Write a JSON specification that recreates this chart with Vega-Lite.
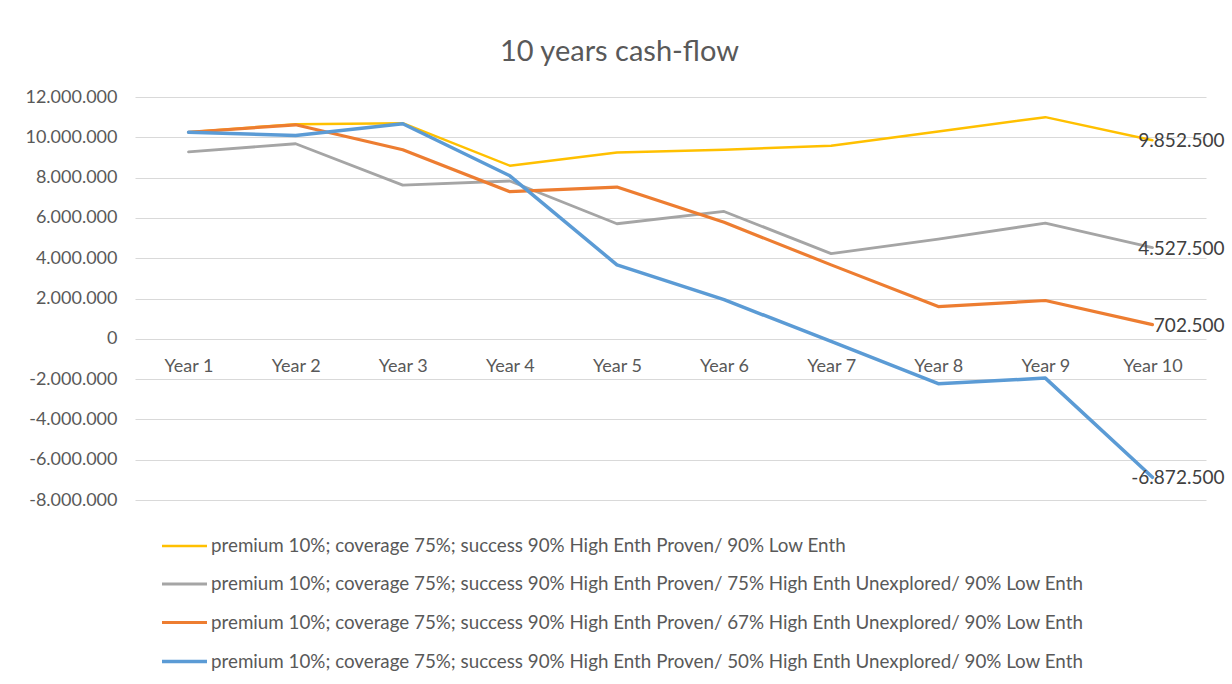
{
  "$schema": "https://vega.github.io/schema/vega-lite/v6.json",
  "autosize": {"type": "none"},
  "width": 1071,
  "height": 403,
  "padding": {"left": 135, "top": 97, "right": 26, "bottom": 184},
  "background": "white",
  "config": {
    "locale": {"number": {"decimal": ",", "thousands": ".", "grouping": [3], "currency": ["", " €"], "minus": "-"}},
    "view": {"stroke": null},
    "font": "Lato"
  },
  "title": {"text": "10 years cash-flow", "fontSize": 29, "font": "Lato", "fontWeight": "normal", "color": "#595959", "anchor": "middle", "dx": -51, "offset": 21},
  "datasets": {
    "flows": [
      {"year": "Year 1", "series": "premium 10%; coverage 75%; success 90% High Enth Proven/ 90% Low Enth", "value": 10250000},
      {"year": "Year 2", "series": "premium 10%; coverage 75%; success 90% High Enth Proven/ 90% Low Enth", "value": 10650000},
      {"year": "Year 3", "series": "premium 10%; coverage 75%; success 90% High Enth Proven/ 90% Low Enth", "value": 10700000},
      {"year": "Year 4", "series": "premium 10%; coverage 75%; success 90% High Enth Proven/ 90% Low Enth", "value": 8590000},
      {"year": "Year 5", "series": "premium 10%; coverage 75%; success 90% High Enth Proven/ 90% Low Enth", "value": 9250000},
      {"year": "Year 6", "series": "premium 10%; coverage 75%; success 90% High Enth Proven/ 90% Low Enth", "value": 9380000},
      {"year": "Year 7", "series": "premium 10%; coverage 75%; success 90% High Enth Proven/ 90% Low Enth", "value": 9580000},
      {"year": "Year 8", "series": "premium 10%; coverage 75%; success 90% High Enth Proven/ 90% Low Enth", "value": 10290000},
      {"year": "Year 9", "series": "premium 10%; coverage 75%; success 90% High Enth Proven/ 90% Low Enth", "value": 11000000},
      {"year": "Year 10", "series": "premium 10%; coverage 75%; success 90% High Enth Proven/ 90% Low Enth", "value": 9852500},
      {"year": "Year 1", "series": "premium 10%; coverage 75%; success 90% High Enth Proven/ 75% High Enth Unexplored/ 90% Low Enth", "value": 9280000},
      {"year": "Year 2", "series": "premium 10%; coverage 75%; success 90% High Enth Proven/ 75% High Enth Unexplored/ 90% Low Enth", "value": 9680000},
      {"year": "Year 3", "series": "premium 10%; coverage 75%; success 90% High Enth Proven/ 75% High Enth Unexplored/ 90% Low Enth", "value": 7630000},
      {"year": "Year 4", "series": "premium 10%; coverage 75%; success 90% High Enth Proven/ 75% High Enth Unexplored/ 90% Low Enth", "value": 7830000},
      {"year": "Year 5", "series": "premium 10%; coverage 75%; success 90% High Enth Proven/ 75% High Enth Unexplored/ 90% Low Enth", "value": 5710000},
      {"year": "Year 6", "series": "premium 10%; coverage 75%; success 90% High Enth Proven/ 75% High Enth Unexplored/ 90% Low Enth", "value": 6320000},
      {"year": "Year 7", "series": "premium 10%; coverage 75%; success 90% High Enth Proven/ 75% High Enth Unexplored/ 90% Low Enth", "value": 4230000},
      {"year": "Year 8", "series": "premium 10%; coverage 75%; success 90% High Enth Proven/ 75% High Enth Unexplored/ 90% Low Enth", "value": 4950000},
      {"year": "Year 9", "series": "premium 10%; coverage 75%; success 90% High Enth Proven/ 75% High Enth Unexplored/ 90% Low Enth", "value": 5740000},
      {"year": "Year 10", "series": "premium 10%; coverage 75%; success 90% High Enth Proven/ 75% High Enth Unexplored/ 90% Low Enth", "value": 4527500},
      {"year": "Year 1", "series": "premium 10%; coverage 75%; success 90% High Enth Proven/ 67% High Enth Unexplored/ 90% Low Enth", "value": 10250000},
      {"year": "Year 2", "series": "premium 10%; coverage 75%; success 90% High Enth Proven/ 67% High Enth Unexplored/ 90% Low Enth", "value": 10620000},
      {"year": "Year 3", "series": "premium 10%; coverage 75%; success 90% High Enth Proven/ 67% High Enth Unexplored/ 90% Low Enth", "value": 9380000},
      {"year": "Year 4", "series": "premium 10%; coverage 75%; success 90% High Enth Proven/ 67% High Enth Unexplored/ 90% Low Enth", "value": 7300000},
      {"year": "Year 5", "series": "premium 10%; coverage 75%; success 90% High Enth Proven/ 67% High Enth Unexplored/ 90% Low Enth", "value": 7530000},
      {"year": "Year 6", "series": "premium 10%; coverage 75%; success 90% High Enth Proven/ 67% High Enth Unexplored/ 90% Low Enth", "value": 5780000},
      {"year": "Year 7", "series": "premium 10%; coverage 75%; success 90% High Enth Proven/ 67% High Enth Unexplored/ 90% Low Enth", "value": 3670000},
      {"year": "Year 8", "series": "premium 10%; coverage 75%; success 90% High Enth Proven/ 67% High Enth Unexplored/ 90% Low Enth", "value": 1600000},
      {"year": "Year 9", "series": "premium 10%; coverage 75%; success 90% High Enth Proven/ 67% High Enth Unexplored/ 90% Low Enth", "value": 1900000},
      {"year": "Year 10", "series": "premium 10%; coverage 75%; success 90% High Enth Proven/ 67% High Enth Unexplored/ 90% Low Enth", "value": 702500},
      {"year": "Year 1", "series": "premium 10%; coverage 75%; success 90% High Enth Proven/ 50% High Enth Unexplored/ 90% Low Enth", "value": 10250000},
      {"year": "Year 2", "series": "premium 10%; coverage 75%; success 90% High Enth Proven/ 50% High Enth Unexplored/ 90% Low Enth", "value": 10090000},
      {"year": "Year 3", "series": "premium 10%; coverage 75%; success 90% High Enth Proven/ 50% High Enth Unexplored/ 90% Low Enth", "value": 10670000},
      {"year": "Year 4", "series": "premium 10%; coverage 75%; success 90% High Enth Proven/ 50% High Enth Unexplored/ 90% Low Enth", "value": 8090000},
      {"year": "Year 5", "series": "premium 10%; coverage 75%; success 90% High Enth Proven/ 50% High Enth Unexplored/ 90% Low Enth", "value": 3670000},
      {"year": "Year 6", "series": "premium 10%; coverage 75%; success 90% High Enth Proven/ 50% High Enth Unexplored/ 90% Low Enth", "value": 1940000},
      {"year": "Year 7", "series": "premium 10%; coverage 75%; success 90% High Enth Proven/ 50% High Enth Unexplored/ 90% Low Enth", "value": -130000},
      {"year": "Year 8", "series": "premium 10%; coverage 75%; success 90% High Enth Proven/ 50% High Enth Unexplored/ 90% Low Enth", "value": -2230000},
      {"year": "Year 9", "series": "premium 10%; coverage 75%; success 90% High Enth Proven/ 50% High Enth Unexplored/ 90% Low Enth", "value": -1950000},
      {"year": "Year 10", "series": "premium 10%; coverage 75%; success 90% High Enth Proven/ 50% High Enth Unexplored/ 90% Low Enth", "value": -6872500}
    ]
  },
  "data": {"name": "flows"},
  "encoding": {
    "x": {
      "field": "year", "type": "nominal", "sort": null,
      "scale": {"type": "point", "padding": 0.5},
      "axis": {"title": null, "offset": -161, "domain": false, "ticks": false, "tickSize": 0, "grid": false, "labelAngle": 0, "labelPadding": 18, "labelFontSize": 18, "labelColor": "#595959", "labelFont": "Lato"}
    },
    "y": {
      "field": "value", "type": "quantitative",
      "scale": {"domain": [-8000000, 12000000], "nice": false, "zero": false},
      "axis": {"title": null, "values": [-8000000, -6000000, -4000000, -2000000, 0, 2000000, 4000000, 6000000, 8000000, 10000000, 12000000], "format": ",d", "domain": false, "ticks": false, "grid": true, "gridColor": "#d9d9d9", "gridWidth": 1, "labelPadding": 18, "labelFontSize": 18, "labelColor": "#595959", "labelFont": "Lato"}
    }
  },
  "layer": [
    {
      "mark": {"type": "line", "strokeCap": "round", "strokeJoin": "round"},
      "encoding": {
        "color": {
          "field": "series", "type": "nominal", "sort": null,
          "scale": {
            "domain": [
              "premium 10%; coverage 75%; success 90% High Enth Proven/ 90% Low Enth",
              "premium 10%; coverage 75%; success 90% High Enth Proven/ 75% High Enth Unexplored/ 90% Low Enth",
              "premium 10%; coverage 75%; success 90% High Enth Proven/ 67% High Enth Unexplored/ 90% Low Enth",
              "premium 10%; coverage 75%; success 90% High Enth Proven/ 50% High Enth Unexplored/ 90% Low Enth"
            ],
            "range": ["#FFC000", "#A5A5A5", "#ED7D31", "#5B9BD5"]
          },
          "legend": {
            "title": null, "orient": "none", "legendX": 25, "legendY": 425, "direction": "vertical",
            "symbolType": "stroke", "symbolSize": 2025, "labelFontSize": 18.8, "labelColor": "#595959", "labelFont": "Lato",
            "labelLimit": 1200, "labelOffset": 2, "rowPadding": 4
          }
        },
        "strokeWidth": {
          "field": "series", "type": "nominal", "sort": null,
          "scale": {
            "domain": [
              "premium 10%; coverage 75%; success 90% High Enth Proven/ 90% Low Enth",
              "premium 10%; coverage 75%; success 90% High Enth Proven/ 75% High Enth Unexplored/ 90% Low Enth",
              "premium 10%; coverage 75%; success 90% High Enth Proven/ 67% High Enth Unexplored/ 90% Low Enth",
              "premium 10%; coverage 75%; success 90% High Enth Proven/ 50% High Enth Unexplored/ 90% Low Enth"
            ],
            "range": [2.5, 3.5, 3.5, 3.5]
          },
          "legend": {
            "title": null, "orient": "none", "legendX": 25, "legendY": 425, "direction": "vertical",
            "symbolType": "stroke", "symbolSize": 2025, "labelFontSize": 18.8, "labelColor": "#595959", "labelFont": "Lato",
            "labelLimit": 1200, "labelOffset": 2, "rowPadding": 4
          }
        }
      }
    },
    {
      "transform": [{"filter": "datum.year === 'Year 10'"}],
      "mark": {"type": "text", "align": "right", "baseline": "middle", "dx": 72, "dy": 1, "fontSize": 19, "font": "Lato", "color": "#404040"},
      "encoding": {
        "text": {"field": "value", "type": "quantitative", "format": ",d"}
      }
    }
  ]
}
